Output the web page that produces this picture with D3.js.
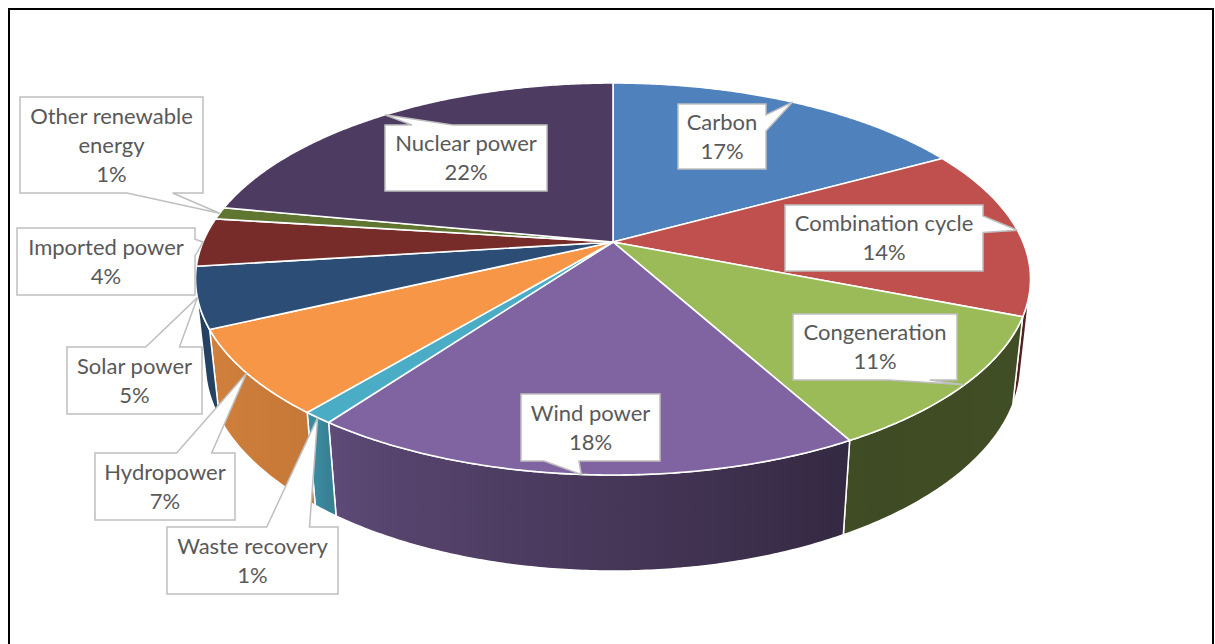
<!DOCTYPE html>
<html>
<head>
<meta charset="utf-8">
<script src="https://cdn.jsdelivr.net/npm/d3@7"></script>
<style>
  html, body { margin: 0; padding: 0; background: #ffffff; }
  svg { display: block; }
</style>
</head>
<body>
<svg id="chart" width="1215" height="644"></svg>
<script>
// ---- data ----
const categories = ["Carbon", "Combination cycle", "Congeneration", "Wind power", "Waste recovery",
                    "Hydropower", "Solar power", "Imported power", "Other renewable energy", "Nuclear power"];
const shares = [17, 14, 11, 18, 1, 7, 5, 4, 1, 22];
const sliceColors = ["#4F81BD", "#C0504D", "#9BBB59", "#8064A2", "#4BACC6",
                     "#F79646", "#2C4D75", "#772C2A", "#5F7530", "#4D3B62"];

// ---- layout of the callout boxes: [x, y, width, height] ----
const calloutBoxes = [
  [678, 104, 88, 65],
  [785, 205, 198, 66],
  [793, 314, 164, 66],
  [521, 394, 139, 67],
  [167, 527, 171, 67],
  [95, 453, 140, 67],
  [67, 347, 135, 67],
  [17, 228, 178, 67],
  [20, 97, 183, 96],
  [385, 125, 162, 66]
];

const W = 1215, H = 644;
const svg = d3.select("#chart");

// chart frame
svg.append("rect")
  .attr("x", 9).attr("y", 9)
  .attr("width", 1204).attr("height", 700)
  .attr("fill", "none").attr("stroke", "#000").attr("stroke-width", 2);

// ---- 3D pie projection (unit radius disk, tilted toward the viewer) ----
const cx = 613, cy = 242;
const elev = Math.asin(0.461);   // camera elevation
const camDist = 4.70;            // camera distance in radii
const focal = 1927;              // px
const thickness = 0.235;         // pie height in radii

function project3(X, Y, Z) {
  const vy = Y - camDist * Math.sin(elev);
  const vz = Z - camDist * Math.cos(elev);
  const yc = vy * Math.cos(elev) - vz * Math.sin(elev);
  const zc = -vy * Math.sin(elev) - vz * Math.cos(elev);
  return [cx + focal * X / zc, cy - focal * yc / zc];
}
// angle measured clockwise from 12 o'clock, as in d3.pie
function rim(theta, Y) {
  return project3(Math.sin(theta), Y, -Math.cos(theta));
}
function arcPoints(a0, a1, Y) {
  const n = Math.max(2, Math.ceil(Math.abs(a1 - a0) / (Math.PI / 360)));
  return d3.range(n + 1).map(i => rim(a0 + (a1 - a0) * i / n, Y));
}

const pie = d3.pie().sort(null).value(d => d)(shares);
const total = d3.sum(shares);

// front-facing part of the outer wall
const visHalf = Math.acos(-1 / (camDist * Math.cos(elev)));
const vis0 = visHalf, vis1 = 2 * Math.PI - visHalf;

// side shading by wall direction (degrees)
const shade = d3.scaleLinear()
  .domain([100, 112, 150, 215, 218, 245, 260])
  .range([0.55, 0.42, 0.40, 0.72, 0.80, 0.85, 0.78])
  .clamp(true);

const defs = svg.append("defs");
const line = d3.line();

const gWalls = svg.append("g");
pie.forEach((p, i) => {
  const a0 = Math.max(p.startAngle, vis0), a1 = Math.min(p.endAngle, vis1);
  if (a1 <= a0) return;
  const top = arcPoints(a0, a1, 0);
  const bot = arcPoints(a0, a1, -thickness).reverse();
  const x0 = top[0][0], x1 = top[top.length - 1][0];
  const grad = defs.append("linearGradient")
    .attr("id", "wall" + i)
    .attr("gradientUnits", "userSpaceOnUse")
    .attr("x1", x0).attr("y1", 0).attr("x2", x1).attr("y2", 0);
  const base = d3.rgb(sliceColors[i]);
  const ns = 12;
  for (let k = 0; k <= ns; k++) {
    const t = a0 + (a1 - a0) * k / ns;
    const x = rim(t, 0)[0];
    const s = shade(t * 180 / Math.PI);
    grad.append("stop")
      .attr("offset", Math.abs(x1 - x0) < 1e-6 ? 0 : (x - x0) / (x1 - x0))
      .attr("stop-color", d3.rgb(base.r * s, base.g * s, base.b * s).formatHex());
  }
  gWalls.append("path")
    .attr("d", line(top.concat(bot)) + "Z")
    .attr("fill", "url(#wall" + i + ")")
    .attr("stroke", "#ffffff")
    .attr("stroke-width", 1.5)
    .attr("stroke-linejoin", "round");
});

// top faces
const gTop = svg.append("g");
const apex = project3(0, 0, 0);
pie.forEach((p, i) => {
  const pts = [apex].concat(arcPoints(p.startAngle, p.endAngle, 0));
  gTop.append("path")
    .attr("d", line(pts) + "Z")
    .attr("fill", sliceColors[i])
    .attr("stroke", "#ffffff")
    .attr("stroke-width", 1.6)
    .attr("stroke-linejoin", "round");
});

// ---- callouts ----
function calloutPath(x, y, w, h, tx, ty) {
  const hc = x + w / 2, vc = y + h / 2;
  const dx = tx - hc, dy = ty - vc;
  const inside = tx >= x && tx <= x + w && ty >= y && ty <= y + h;
  let side = null;
  if (!inside) {
    if (Math.abs(dx) * h > Math.abs(dy) * w) side = dx < 0 ? "left" : "right";
    else side = dy < 0 ? "top" : "bottom";
  }
  const xb1 = dx < 0 ? x + w / 6 : x + 7 * w / 12;
  const xb2 = dx < 0 ? x + 5 * w / 12 : x + 5 * w / 6;
  const yb1 = dy < 0 ? y + h / 6 : y + 7 * h / 12;
  const yb2 = dy < 0 ? y + 5 * h / 12 : y + 5 * h / 6;
  const pts = [[x, y]];
  if (side === "top") pts.push([xb1, y], [tx, ty], [xb2, y]);
  pts.push([x + w, y]);
  if (side === "right") pts.push([x + w, yb1], [tx, ty], [x + w, yb2]);
  pts.push([x + w, y + h]);
  if (side === "bottom") pts.push([xb2, y + h], [tx, ty], [xb1, y + h]);
  pts.push([x, y + h]);
  if (side === "left") pts.push([x, yb2], [tx, ty], [x, yb1]);
  return line(pts) + "Z";
}

const gLabels = svg.append("g")
  .attr("font-family", "Lato, 'Open Sans', sans-serif")
  .attr("font-size", 22)
  .attr("fill", "#595959");

const lineH = 29, capHalf = 7.8;

pie.forEach((p, i) => {
  const [bx, by, bw, bh] = calloutBoxes[i];
  const mid = (p.startAngle + p.endAngle) / 2;
  const [tx, ty] = rim(mid, 0);
  const g = gLabels.append("g");
  g.append("path")
    .attr("d", calloutPath(bx, by, bw, bh, tx, ty))
    .attr("fill", "#ffffff")
    .attr("stroke", "#BFBFBF")
    .attr("stroke-width", 1.5)
    .attr("stroke-linejoin", "miter");

  // wrap the category name to the box width
  const words = categories[i].split(" ");
  const lines = [];
  const probe = g.append("text");
  let cur = "";
  words.forEach(wd => {
    const trial = cur ? cur + " " + wd : wd;
    probe.text(trial);
    if (cur && probe.node().getComputedTextLength() > bw - 10) {
      lines.push(cur);
      cur = wd;
    } else cur = trial;
  });
  lines.push(cur);
  probe.remove();
  lines.push(Math.round(p.value / total * 100) + "%");

  const n = lines.length;
  lines.forEach((t, k) => {
    g.append("text")
      .attr("x", bx + bw / 2)
      .attr("y", by + bh / 2 + (k - (n - 1) / 2) * lineH + capHalf)
      .attr("text-anchor", "middle")
      .text(t);
  });
});
</script>
</body>
</html>
